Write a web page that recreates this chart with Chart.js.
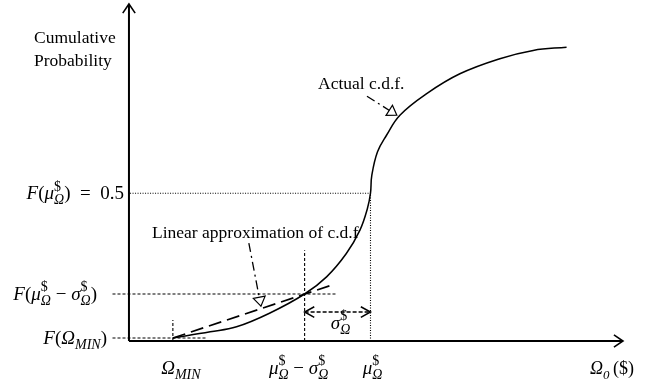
<!DOCTYPE html>
<html>
<head>
<meta charset="utf-8">
<script src="https://cdn.jsdelivr.net/npm/chart.js@4"></script>
<style>
  html, body { margin: 0; padding: 0; background: #fff; }
  canvas { display: block; }
</style>
</head>
<body>
<canvas id="cdfChart" width="659" height="383"></canvas>
<script>
// Actual c.d.f. curve (x in $, y = cumulative probability)
const cdfX = [20, 37, 49, 64, 80, 90, 99, 105.2, 108.6, 110, 110.6, 113.2, 117.3, 123.4, 135.6, 150.7, 168.9, 184.1, 199.3];
const cdfY = [0.01, 0.031, 0.048, 0.094, 0.159, 0.217, 0.296, 0.375, 0.448, 0.5, 0.56, 0.64, 0.696, 0.764, 0.837, 0.904, 0.955, 0.983, 0.994];

// Key points: Omega_MIN, mu - sigma, mu
const keyX = [20, 80, 110];
const keyF = [0.01, 0.159, 0.5];

// Linear approximation of the c.d.f.
const linearX = [20, 91.5];
const linearY = [0.01, 0.187];

// Note arrows (start -> tip)
const noteFromX = [54.6, 108.4];
const noteFromY = [0.331, 0.828];
const noteToX = [60.1, 122.0];
const noteToY = [0.118, 0.764];

// Rich text labels: t = italic base, r = upright base, sup / sub = scripts
const yTickLabels = [
    [{ t: 'F' }, { r: '(' }, { t: 'Ω', sub: 'MIN' }, { r: ')' }],
    [{ t: 'F' }, { r: '(' }, { t: 'μ', sup: '$', sub: 'Ω' }, { r: ' − ' }, { t: 'σ', sup: '$', sub: 'Ω' }, { r: ')' }],
    [{ t: 'F' }, { r: '(' }, { t: 'μ', sup: '$', sub: 'Ω' }, { r: ')  =  0.5' }]
];
const xTickLabels = [
    [{ t: 'Ω', sub: 'MIN' }],
    [{ t: 'μ', sup: '$', sub: 'Ω' }, { r: ' − ' }, { t: 'σ', sup: '$', sub: 'Ω' }],
    [{ t: 'μ', sup: '$', sub: 'Ω' }]
];

document.addEventListener('DOMContentLoaded', function() {
    const ctx = document.getElementById('cdfChart').getContext('2d');

    const xMin = -10, xMax = 225, yMax = 1.14;
    const serif = '"Liberation Serif", "Times New Roman", serif';
    const mathSize = 19;

    function seg(x1, y1, x2, y2) {
        return [{ x: x1, y: y1 }, { x: x2, y: y2 }];
    }

    function lineSet(data, dash, width) {
        return {
            data: data,
            showLine: true,
            borderColor: '#000',
            borderWidth: width || 1.2,
            borderDash: dash || [],
            pointRadius: 0,
            fill: false,
            clip: false
        };
    }

    const datasets = [
        // actual c.d.f.
        Object.assign(lineSet(cdfX.map((x, i) => ({ x: x, y: cdfY[i] })), [], 1.5), { tension: 0.4 }),
        // linear approximation
        lineSet(seg(linearX[0], linearY[0], linearX[1], linearY[1]), [13, 6], 1.7),
        // guide lines
        lineSet(seg(-7.5, keyF[0], 35.5, keyF[0]), [3, 2], 1.1),
        lineSet(seg(keyX[0], 0, keyX[0], 0.071), [3, 2], 1.1),
        lineSet(seg(-7.5, keyF[1], 94.7, keyF[1]), [3, 2], 1.1),
        lineSet(seg(keyX[1], 0, keyX[1], 0.307), [3, 2], 1.1),
        lineSet(seg(0.5, keyF[2], keyX[2], keyF[2]), [1, 1.5], 1.1),
        lineSet(seg(keyX[2], 0, keyX[2], keyF[2]), [1, 1.5], 1.1),
        // sigma span arrow
        lineSet(seg(keyX[1], 0.098, keyX[2], 0.098), [4, 2], 1.5)
    ];
    // note arrows (dash-dot)
    noteFromX.forEach((x, i) => {
        datasets.push(lineSet(seg(x, noteFromY[i], noteToX[i], noteToY[i]), [9, 4, 2, 4], 1.3));
    });

    function px(chart, x, y) {
        return [chart.scales.x.getPixelForValue(x), chart.scales.y.getPixelForValue(y)];
    }

    function chevron(c, tip, from, len, spread) {
        const a = Math.atan2(tip[1] - from[1], tip[0] - from[0]);
        c.beginPath();
        c.moveTo(tip[0] - len * Math.cos(a - spread), tip[1] - len * Math.sin(a - spread));
        c.lineTo(tip[0], tip[1]);
        c.lineTo(tip[0] - len * Math.cos(a + spread), tip[1] - len * Math.sin(a + spread));
        c.stroke();
    }

    function openTriangle(c, tip, from, len, half) {
        const a = Math.atan2(tip[1] - from[1], tip[0] - from[0]);
        const bx = tip[0] - len * Math.cos(a), by = tip[1] - len * Math.sin(a);
        const nx = -Math.sin(a) * half, ny = Math.cos(a) * half;
        c.beginPath();
        c.moveTo(tip[0], tip[1]);
        c.lineTo(bx + nx, by + ny);
        c.lineTo(bx - nx, by - ny);
        c.closePath();
        c.fillStyle = '#fff';
        c.fill();
        c.stroke();
    }

    // measure / draw a rich math label
    function richWidth(c, runs, size) {
        let w = 0;
        runs.forEach(r => {
            c.font = (r.t ? 'italic ' : '') + size + 'px ' + serif;
            w += c.measureText(r.t || r.r).width;
            let s = 0;
            if (r.sup) { c.font = Math.round(size * 0.72) + 'px ' + serif; s = c.measureText(r.sup).width; }
            if (r.sub) { c.font = 'italic ' + Math.round(size * 0.72) + 'px ' + serif; s = Math.max(s, c.measureText(r.sub).width); }
            w += s;
        });
        return w;
    }

    function drawRich(c, runs, x, base, align, size) {
        const w = richWidth(c, runs, size);
        let cx = align === 'right' ? x - w : align === 'center' ? x - w / 2 : x;
        c.fillStyle = '#000';
        c.textAlign = 'left';
        c.textBaseline = 'alphabetic';
        runs.forEach(r => {
            c.font = (r.t ? 'italic ' : '') + size + 'px ' + serif;
            const txt = r.t || r.r;
            c.fillText(txt, cx, base);
            cx += c.measureText(txt).width;
            let s = 0;
            const small = Math.round(size * 0.72);
            if (r.sup) {
                c.font = small + 'px ' + serif;
                c.fillText(r.sup, cx, base - size * 0.45);
                s = c.measureText(r.sup).width;
            }
            if (r.sub) {
                c.font = 'italic ' + small + 'px ' + serif;
                c.fillText(r.sub, cx, base + size * 0.25);
                s = Math.max(s, c.measureText(r.sub).width);
            }
            cx += s;
        });
    }

    const diagramPlugin = {
        id: 'diagram',
        beforeDatasetsDraw(chart) {
            const c = chart.ctx;
            const o = px(chart, 0, 0);
            const top = px(chart, 0, yMax);
            const right = px(chart, xMax, 0);
            c.save();
            c.strokeStyle = '#000';
            c.lineWidth = 2;
            c.beginPath();
            c.moveTo(o[0], o[1]);
            c.lineTo(top[0], top[1]);
            c.moveTo(o[0], o[1]);
            c.lineTo(right[0], right[1]);
            c.stroke();
            c.lineWidth = 1.6;
            chevron(c, top, o, 11, 0.6);
            chevron(c, right, o, 11, 0.6);
            c.restore();
        },
        afterDatasetsDraw(chart) {
            const c = chart.ctx;
            c.save();
            c.strokeStyle = '#000';
            c.setLineDash([]);

            // sigma arrow heads
            c.lineWidth = 1.5;
            const sL = px(chart, keyX[1], 0.098), sR = px(chart, keyX[2], 0.098);
            chevron(c, sL, sR, 11, 0.5);
            chevron(c, sR, sL, 11, 0.5);

            // note arrow heads
            c.lineWidth = 1.2;
            noteFromX.forEach((x, i) => {
                openTriangle(c, px(chart, noteToX[i], noteToY[i]), px(chart, x, noteFromY[i]), 9, 6);
            });

            // axis texts
            c.fillStyle = '#000';
            c.font = '17.5px ' + serif;
            c.textAlign = 'left';
            c.textBaseline = 'alphabetic';
            c.fillText('Cumulative', 34, 43);
            c.fillText('Probability', 34, 66);
            c.fillText('Linear approximation of c.d.f', 152, 238);
            c.fillText('Actual c.d.f.', 318, 89);

            // y labels
            const yRight = [107, 97, 124];
            yTickLabels.forEach((runs, i) => {
                const p = px(chart, 0, keyF[i]);
                drawRich(c, runs, yRight[i], p[1] + 6, 'right', mathSize);
            });

            // x labels
            const xShift = [8, -6, 2];
            xTickLabels.forEach((runs, i) => {
                const p = px(chart, keyX[i], 0);
                drawRich(c, runs, p[0] + xShift[i], 374, 'center', mathSize);
            });

            // sigma label
            const sm = px(chart, (keyX[1] + keyX[2]) / 2, 0.098);
            drawRich(c, [{ t: 'σ', sup: '$', sub: 'Ω' }], sm[0] + 3, 329, 'center', mathSize);

            // x axis title
            drawRich(c, [{ t: 'Ω', sub: '0' }], 590, 374, 'left', 18);
            c.font = '18px ' + serif;
            c.fillText('($)', 613, 374);

            c.restore();
        }
    };

    new Chart(ctx, {
        type: 'scatter',
        data: { datasets: datasets },
        options: {
            responsive: false,
            animation: false,
            events: [],
            layout: {
                padding: { left: 107, right: 36, top: 4, bottom: 42 }
            },
            scales: {
                x: { type: 'linear', min: xMin, max: xMax, display: false },
                y: { type: 'linear', min: 0, max: yMax, display: false }
            },
            plugins: {
                legend: { display: false },
                tooltip: { enabled: false }
            }
        },
        plugins: [diagramPlugin]
    });
});
</script>
</body>
</html>
